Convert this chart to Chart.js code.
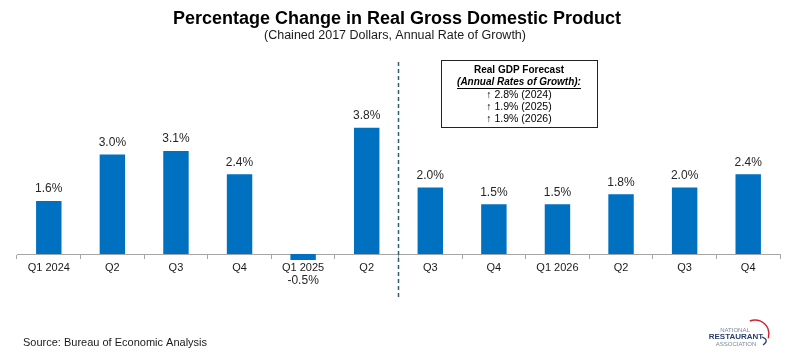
<!DOCTYPE html>
<html>
<head>
<meta charset="utf-8">
<script src="https://cdn.jsdelivr.net/npm/chart.js@4.4.1/dist/chart.umd.min.js"></script>
<style>
html,body{margin:0;padding:0;background:#fff;}
#wrap{width:799px;height:357px;position:relative;}
</style>
</head>
<body>
<div id="wrap"><canvas id="c" width="799" height="357"></canvas></div>
<script>
const categories = ["Q1 2024","Q2","Q3","Q4","Q1 2025","Q2","Q3","Q4","Q1 2026","Q2","Q3","Q4"];
const gdpGrowth = [1.6, 3.0, 3.1, 2.4, -0.5, 3.8, 2.0, 1.5, 1.5, 1.8, 2.0, 2.4];
const titleText = "Percentage Change in Real Gross Domestic Product";
const subtitleText = "(Chained 2017 Dollars, Annual Rate of Growth)";
const forecastHeading = "Real GDP Forecast";
const forecastSub = "(Annual Rates of Growth):";
const forecastLines = ["\u2191 2.8% (2024)", "\u2191 1.9% (2025)", "\u2191 1.9% (2026)"];
const sourceText = "Source: Bureau of Economic Analysis";
const dividerAfterIndex = 5;

const FONT = "'Liberation Sans', Arial, sans-serif";

const overlay = {
  id: 'overlay',
  afterDatasetsDraw(chart) {
    const ctx = chart.ctx;
    const meta = chart.getDatasetMeta(0);
    const x = chart.scales.x;
    ctx.save();
    ctx.font = "12px " + FONT;
    ctx.fillStyle = "#262626";
    ctx.textAlign = "center";
    ctx.textBaseline = "middle";
    meta.data.forEach((bar, i) => {
      const v = gdpGrowth[i];
      const txt = v.toFixed(1) + "%";
      if (v >= 0) ctx.fillText(txt, bar.x, bar.y - 12);
      else ctx.fillText(txt, bar.x, bar.y + 10);
    });
    const xa = x.getPixelForValue(dividerAfterIndex);
    const xb = x.getPixelForValue(dividerAfterIndex + 1);
    const xd = (xa + xb) / 2;
    ctx.strokeStyle = "#2e5f73";
    ctx.lineWidth = 1.5;
    ctx.setLineDash([4, 3]);
    ctx.beginPath();
    ctx.moveTo(xd, 62);
    ctx.lineTo(xd, 300);
    ctx.stroke();
    ctx.setLineDash([]);
    ctx.restore();
  },
  afterDraw(chart) {
    const ctx = chart.ctx;
    ctx.save();
    ctx.textAlign = "center";
    ctx.textBaseline = "middle";
    ctx.fillStyle = "#000";
    ctx.font = "bold 18px " + FONT;
    ctx.fillText(titleText, 397, 19);
    ctx.font = "12.5px " + FONT;
    ctx.fillStyle = "#1a1a1a";
    ctx.fillText(subtitleText, 395, 36);

    const bx = 441, by = 60, bw = 156, bh = 67;
    ctx.fillStyle = "#fff";
    ctx.fillRect(bx, by, bw, bh);
    ctx.strokeStyle = "#222";
    ctx.lineWidth = 1;
    ctx.strokeRect(bx + 0.5, by + 0.5, bw, bh);
    const cx = bx + bw / 2;
    ctx.fillStyle = "#000";
    ctx.font = "bold 10px " + FONT;
    ctx.fillText(forecastHeading, cx, by + 10);
    ctx.font = "italic bold 10px " + FONT;
    ctx.fillText(forecastSub, cx, by + 22);
    const w = ctx.measureText(forecastSub).width;
    ctx.fillRect(cx - w / 2, by + 28, w, 1);
    ctx.font = "10.5px " + FONT;
    forecastLines.forEach((t, i) => ctx.fillText(t, cx, by + 35 + i * 12));

    ctx.textAlign = "left";
    ctx.font = "11px " + FONT;
    ctx.fillStyle = "#1a1a1a";
    ctx.fillText(sourceText, 23, 343);

    // logo
    ctx.textAlign = "center";
    ctx.fillStyle = "#7a879b";
    ctx.font = "6px " + FONT;
    ctx.fillText("NATIONAL", 735, 330);
    ctx.fillStyle = "#2b3f6b";
    ctx.font = "bold 8px " + FONT;
    ctx.fillText("RESTAURANT", 736, 337);
    ctx.fillStyle = "#7a879b";
    ctx.font = "6px " + FONT;
    ctx.fillText("ASSOCIATION", 736, 344);
    ctx.strokeStyle = "#d0202e";
    ctx.lineWidth = 1.4;
    ctx.beginPath();
    ctx.arc(755, 334, 14, -Math.PI * 0.62, Math.PI * 0.1);
    ctx.stroke();
    ctx.strokeStyle = "#2b3f6b";
    ctx.lineWidth = 1.2;
    ctx.beginPath();
    ctx.moveTo(762, 337);
    ctx.quadraticCurveTo(770, 340, 763, 345);
    ctx.stroke();
    ctx.restore();
  }
};

new Chart(document.getElementById('c'), {
  type: 'bar',
  data: {
    labels: categories,
    datasets: [{
      data: gdpGrowth,
      backgroundColor: "#0070C0",
      barPercentage: 0.4,
      categoryPercentage: 1.0
    }]
  },
  options: {
    responsive: false,
    animation: false,
    devicePixelRatio: 1,
    layout: { padding: { left: 17, right: 19, top: 104.6, bottom: 97 } },
    plugins: { legend: { display: false }, tooltip: { enabled: false }, title: { display: false } },
    scales: {
      y: { display: false, min: -0.18, max: 4.5 },
      x: {
        position: { y: 0 },
        offset: true,
        grid: { display: true, offset: true, drawOnChartArea: false, drawTicks: true, tickLength: 4, color: "#a6a6a6" },
        border: { display: true, color: "#a6a6a6", width: 1 },
        ticks: { color: "#1a1a1a", font: { family: FONT, size: 11 }, padding: 3, maxRotation: 0, autoSkip: false }
      }
    }
  },
  plugins: [overlay]
});
</script>
</body>
</html>
